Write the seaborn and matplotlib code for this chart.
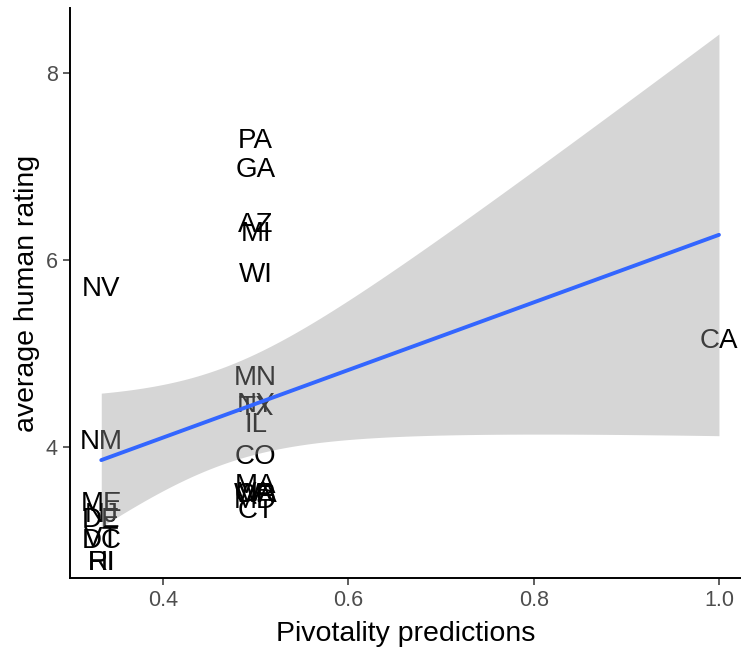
import numpy as np
import pandas as pd
import matplotlib
matplotlib.use("Agg")
import matplotlib.pyplot as plt
import seaborn as sns

# State-level pivotality predictions and mean human ratings
states = ["NV", "NM", "ME", "NJ", "DE", "VT", "DC", "RI", "HI",
          "PA", "GA", "AZ", "MI", "WI", "MN", "NY", "TX", "IL", "CO",
          "MA", "VA", "WA", "OR", "MD", "CT",
          "CA"]
pivotality = [1/3, 1/3, 1/3, 1/3, 1/3, 1/3, 1/3, 1/3, 1/3,
              0.5, 0.5, 0.5, 0.5, 0.5, 0.5, 0.5, 0.5, 0.5, 0.5,
              0.5, 0.5, 0.5, 0.5, 0.5, 0.5,
              1.0]
rating = [5.72, 4.09, 3.42, 3.30, 3.25, 3.05, 3.03, 2.79, 2.79,
          7.31, 7.00, 6.41, 6.31, 5.87, 4.77, 4.48, 4.45, 4.27, 3.93,
          3.62, 3.53, 3.52, 3.52, 3.45, 3.35,
          5.17]

xticks = [0.4, 0.6, 0.8, 1.0]
xtick_labels = ["0.4", "0.6", "0.8", "1.0"]
yticks = [4, 6, 8]
ytick_labels = ["4", "6", "8"]

df = pd.DataFrame({"state": states, "pivotality": pivotality, "rating": rating})

sns.set_theme(style="ticks")
plt.rcParams["font.family"] = ["Liberation Sans", "DejaVu Sans"]

fig = plt.figure(figsize=(7.41, 6.53), dpi=100)
ax = fig.add_axes([0.0945, 0.1149, 0.9055, 0.8728])

# state labels sit underneath the confidence band
for s, xv, yv in zip(df["state"], df["pivotality"], df["rating"]):
    ax.text(xv, yv, s, ha="center", va="center_baseline", fontsize=20,
            color="black", zorder=1)

# linear fit with a t-based 95% confidence band
x = df["pivotality"].to_numpy()
y = df["rating"].to_numpy()
n = len(x)
slope, intercept = np.polyfit(x, y, 1)
resid = y - (intercept + slope * x)
s_err = np.sqrt(np.sum(resid ** 2) / (n - 2))
xs = np.linspace(x.min(), x.max(), 200)
sxx = np.sum((x - x.mean()) ** 2)
se = s_err * np.sqrt(1 / n + (xs - x.mean()) ** 2 / sxx)
t_crit = 2.0639  # t(0.975, df=24)
fit = intercept + slope * xs
ax.fill_between(xs, fit - t_crit * se, fit + t_crit * se,
                color="#999999", alpha=0.4, linewidth=0, zorder=2)

sns.regplot(data=df, x="pivotality", y="rating", ax=ax, scatter=False, ci=None,
            line_kws={"color": "#3366FF", "linewidth": 2.8, "zorder": 3})

ax.set_xlim(0.2996, 1.0238)
ax.set_ylim(2.599, 8.695)
ax.set_xticks(xticks, xtick_labels)
ax.set_yticks(yticks, ytick_labels)
ax.tick_params(axis="both", labelsize=15.5, labelcolor="#4d4d4d", color="#333333",
               length=5, width=1.1, pad=4)
for side in ["top", "right"]:
    ax.spines[side].set_visible(False)
for side in ["left", "bottom"]:
    ax.spines[side].set_color("black")
    ax.spines[side].set_linewidth(1.4)

ax.set_xlabel("Pivotality predictions", fontsize=20.5, color="black", labelpad=7)
ax.set_ylabel("average human rating", fontsize=20.5, color="black", labelpad=4)

fig.savefig("out.png", dpi=100, facecolor="white")
